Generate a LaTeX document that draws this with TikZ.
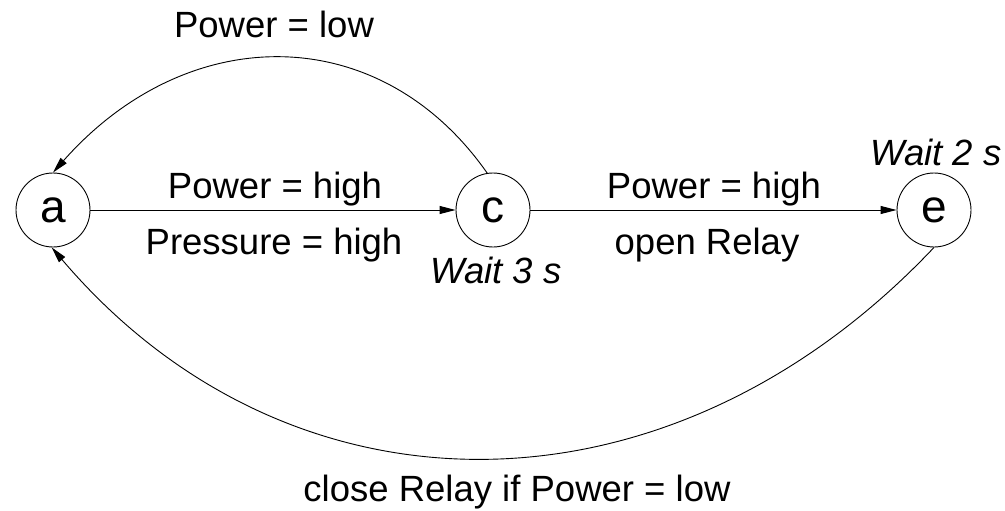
\documentclass[tikz,border=0pt]{standalone}
\usepackage{fontspec}
\setmainfont{Liberation Sans}
\usetikzlibrary{arrows.meta}
\begin{document}
\begin{tikzpicture}[x=1pt,y=-1pt,
  every node/.style={font=\fontsize{36.5}{44}\selectfont},
  state/.style={circle,draw,line width=0.9pt,minimum size=74pt,inner sep=0pt,
    font=\fontsize{46}{52}\selectfont},
  lbl/.style={anchor=base,inner sep=0pt},
  wait/.style={anchor=base,inner sep=0pt,font=\fontsize{36.5}{44}\selectfont\itshape},
  trans/.style={line width=0.9pt,-{Triangle[length=16pt,width=8pt]}}]
\useasboundingbox (0,0) rectangle (1005,511);
% states
\node[state] (a) at (53,210) {a};
\node[state] (c) at (493,210) {c};
\node[state] (e) at (934,210) {e};
% waiting times
\node[wait] (wc) at (496,283) {Wait 3 s};
\node[wait] (we) at (936,165) {Wait 2 s};
% transitions
\draw[trans] (a) -- (c);
\draw[trans] (c) -- (e);
\draw[trans] (c.99) .. controls (380,20) and (188,20) .. (a.90);
\draw[trans] (e.270) .. controls (669,528) and (290,528) .. (a.268);
% transition labels
\node[lbl] (l1) at (274,38) {Power = low};
\node[lbl] (l2) at (275,198) {Power = high};
\node[lbl] (l3) at (274,254) {Pressure = high};
\node[lbl] (l4) at (714,198) {Power = high};
\node[lbl] (l5) at (707,254) {open Relay};
\node[lbl] (l6) at (517,501) {close Relay if Power = low};
\end{tikzpicture}
\end{document}
